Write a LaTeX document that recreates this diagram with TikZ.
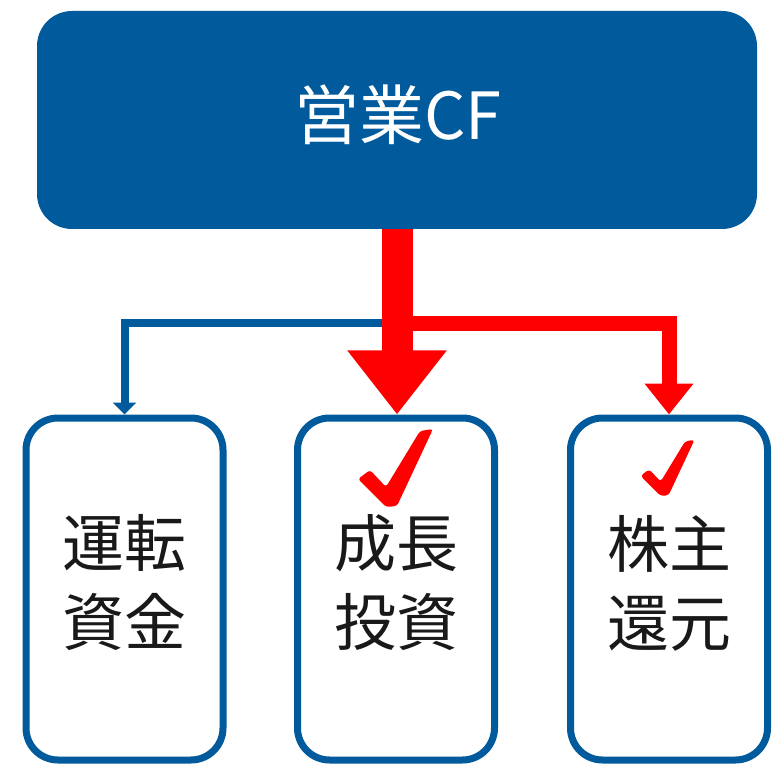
\documentclass[tikz,border=0pt]{standalone}
\usepackage{fontspec}
\setmainfont{Noto Sans CJK JP}
\usetikzlibrary{arrows.meta}
\definecolor{cfblue}{HTML}{005A9C}
\definecolor{cfred}{HTML}{FF0000}
\tikzset{
  topbox/.style={rectangle, rounded corners=35pt, fill=cfblue, draw=none, inner sep=0pt,
    minimum width=720pt, minimum height=218pt},
  toptext/.style={inner sep=0pt, text=white, font=\fontsize{65}{75}\selectfont},
  itembox/.style={rectangle, rounded corners=32pt, draw=cfblue, line width=7pt, fill=white, inner sep=0pt,
    minimum width=197pt, minimum height=342pt},
  itemtext/.style={align=center, inner sep=0pt, text=black!90, font=\fontsize{62}{79}\selectfont},
  blueconn/.style={draw=cfblue, line width=8pt, -{Triangle[width=23pt,length=12pt]}},
  redconn/.style={draw=cfred, line width=15pt, -{Triangle[width=47pt,length=31pt]}},
  redmain/.style={draw=cfred, line width=31pt, -{Triangle[width=95pt,length=64pt]}},
  checkmark/.style={fill=cfred, rounded corners=3pt},
}
\begin{document}
\begin{tikzpicture}[x=1pt, y=-1pt]
\useasboundingbox (0,0) rectangle (774,767);
% boxes
\node[topbox] (top) at (397,120) {};
\node[toptext] (topt) at (398,115) {営業CF};
\node[itembox] (wc) at (124.5,589) {};
\node[itembox] (gi) at (396,589) {};
\node[itembox] (sr) at (669,589) {};
% texts
\node[itemtext] (wct) at (124.5,583) {運転\\資金};
\node[itemtext] (git) at (396,583) {成長\\投資};
\node[itemtext] (srt) at (669,583) {株主\\還元};
% connectors
\coordinate (jb) at (382,323);
\coordinate (jr) at (400,324);
\draw[blueconn] (jb) -| (wc.north);
\draw[redconn] (jr) -| (sr.north);
\draw[redmain] (top.south) -- (top.south |- gi.north);
% check marks
\begin{scope}[shift={(392,507)}]
  \fill[checkmark] (-34,-28) -- (-22,-37) -- (-6,-20) -- (28,-76) -- (41,-78) -- (5,-1) -- (-6,0) -- cycle;
\end{scope}
\begin{scope}[shift={(665,496)}, scale=0.72]
  \fill[checkmark] (-34,-28) -- (-22,-37) -- (-6,-20) -- (28,-76) -- (41,-78) -- (5,-1) -- (-6,0) -- cycle;
\end{scope}
\end{tikzpicture}
\end{document}
